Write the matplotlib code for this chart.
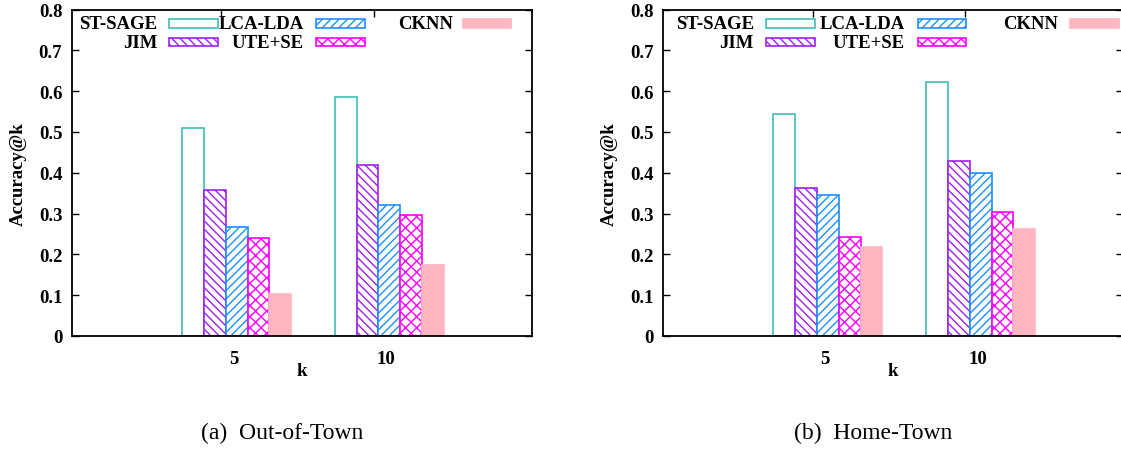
import matplotlib
matplotlib.use('Agg')
import matplotlib.pyplot as plt
from matplotlib.patches import Rectangle

plt.rcParams['font.family'] = 'Liberation Serif'
plt.rcParams['font.weight'] = 'bold'
plt.rcParams['hatch.linewidth'] = 1.0

# data
ks = ['5', '10']
methods = ['ST-SAGE', 'JIM', 'LCA-LDA', 'UTE+SE', 'CKNN']
out_of_town = [
    [0.510, 0.585],   # ST-SAGE
    [0.357, 0.418],   # JIM
    [0.266, 0.322],   # LCA-LDA
    [0.239, 0.296],   # UTE+SE
    [0.102, 0.174],   # CKNN
]
home_town = [
    [0.544, 0.623],
    [0.363, 0.429],
    [0.345, 0.400],
    [0.242, 0.303],
    [0.219, 0.262],
]
captions = ['(a)  Out-of-Town', '(b)  Home-Town']

edge_colors = ['#3cbdb5', '#a020f0', '#1e90ff', '#ff00ff', '#ffb6c1']
face_colors = ['white', 'white', 'white', 'white', '#ffb6c1']
hatches = ['', '\\' * 4, '/' * 4, 'x' * 3, '']

fig = plt.figure(figsize=(11.21, 4.52), dpi=100)

w = 1 / 7
panels = [
    # axes left (px), legend text right edges, legend swatch starts
    (72, [0.185, 0.504, 0.828], [0.211, 0.531, 0.850]),
    (663.3, [0.197, 0.526, 0.859], [0.223, 0.553, 0.885]),
]
cap_x = [281.7, 873]

for p, (data, (left, txs, sxs)) in enumerate(zip([out_of_town, home_town], panels)):
    ax = fig.add_axes([left / 1121, (452 - 337) / 452, 459.7 / 1121, 326.5 / 452])
    for j, name in enumerate(methods):
        xs = [i + (j - 2) * w for i in range(len(ks))]
        ax.bar(xs, data[j], width=w, facecolor=face_colors[j],
               edgecolor=edge_colors[j], hatch=hatches[j], linewidth=1.2)
    ax.set_xlim(-1.079, 1.933)
    ax.set_ylim(0, 0.8)
    ax.set_yticks([0, 0.1, 0.2, 0.3, 0.4, 0.5, 0.6, 0.7, 0.8])
    ax.set_yticklabels(['0', '0.1', '0.2', '0.3', '0.4', '0.5', '0.6', '0.7', '0.8'])
    ax.set_xticks([i - 0.02 for i in range(len(ks))])
    ax.set_xticklabels(ks)
    ax.set_xticks([i - 0.1 for i in range(len(ks))], minor=True)
    ax.tick_params(axis='x', which='major', length=0, pad=10, labelsize=13.5)
    ax.tick_params(axis='x', which='minor', direction='in', length=5,
                   top=True, bottom=False, width=1)
    ax.tick_params(axis='y', direction='in', length=5, right=True, width=1,
                   pad=7, labelsize=13.5)
    for s in ax.spines.values():
        s.set_linewidth(1.3)
    ax.set_xlabel('k', fontsize=13.5, fontweight='bold')
    ax.xaxis.set_label_coords(0.5, -0.08)
    ax.set_ylabel('Accuracy@k', fontsize=13.5, fontweight='bold')
    ax.yaxis.set_label_coords(-0.098, 0.5)

    # gnuplot-style key: text right-aligned before swatch
    rows = [0.957, 0.900]
    for j, name in enumerate(methods):
        col, row = j // 2, j % 2
        ty = rows[row]
        ax.text(txs[col], ty, name, transform=ax.transAxes, ha='right',
                va='center', fontsize=13.5, fontweight='bold')
        ax.add_patch(Rectangle((sxs[col], ty - 0.013), 0.106, 0.026,
                               transform=ax.transAxes, facecolor=face_colors[j],
                               edgecolor=edge_colors[j], hatch=hatches[j],
                               linewidth=1.2, clip_on=False))

    fig.text(cap_x[p] / 1121, 1 - 433 / 452, captions[p], ha='center', va='center',
             fontsize=17, fontweight='normal')

fig.savefig('out.png', dpi=100)
